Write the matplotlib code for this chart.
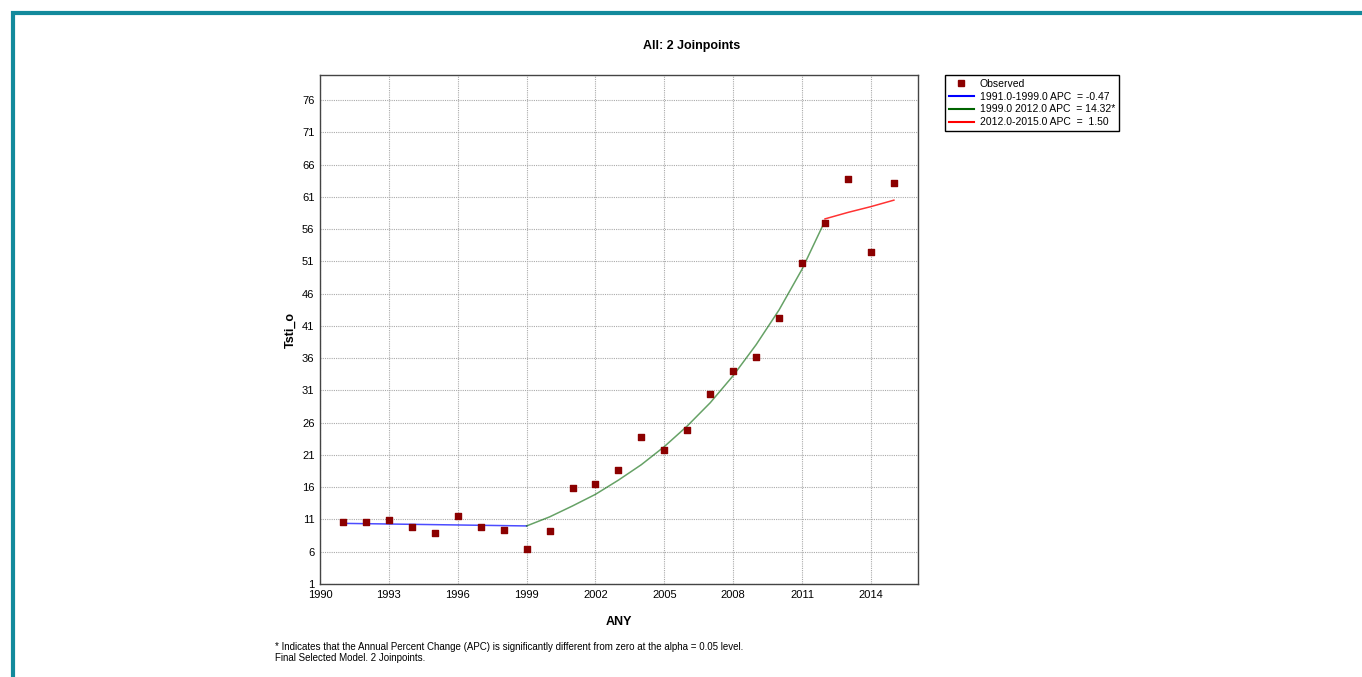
import numpy as np
import matplotlib
matplotlib.use('Agg')
import matplotlib.pyplot as plt
from matplotlib.lines import Line2D
from matplotlib.patches import Rectangle

plt.rcParams['font.family'] = ['Liberation Sans', 'DejaVu Sans']

# observed values
years = list(range(1991, 2016))
observed = [10.6, 10.6, 10.9, 9.8, 8.9, 11.5, 9.8, 9.4, 6.4, 9.2,
            15.9, 16.5, 18.7, 23.8, 21.8, 24.9, 30.4, 34.0, 36.2, 42.2,
            50.7, 56.9, 63.8, 52.4, 63.1]

# fitted segments
seg1_years = list(range(1991, 2000))
seg1_fit = [10.40, 10.35, 10.30, 10.25, 10.20, 10.15, 10.10, 10.05, 10.00]
seg2_years = list(range(1999, 2013))
seg2_fit = [10.0, 11.4, 13.1, 14.9, 17.1, 19.5, 22.3, 25.5, 29.1, 33.3,
            38.1, 43.5, 49.8, 57.3]
seg3_years = list(range(2012, 2016))
seg3_fit = [57.6, 58.6, 59.5, 60.5]

seg_labels = ['1991.0-1999.0 APC  = -0.47',
              '1999.0 2012.0 APC  = 14.32*',
              '2012.0-2015.0 APC  =  1.50']
seg_colors = ['#0000ff', '#006400', '#ff0000']

xticks = list(range(1990, 2015, 3))
yticks = list(range(1, 77, 5))

fig = plt.figure(figsize=(13.62, 6.77), dpi=100)
ax = fig.add_axes([320 / 1362, 1 - 584 / 677, 598 / 1362, 509 / 677])

# outer teal frame
fig.patches.append(Rectangle((13 / 1362, -0.1), 1.2, (677 - 13) / 677 + 0.1,
                             transform=fig.transFigure, fill=False,
                             edgecolor='#138a9c', linewidth=3))

ax.plot(seg1_years, seg1_fit, color=seg_colors[0], lw=1.1, alpha=0.7)
ax.plot(seg2_years, seg2_fit, color=seg_colors[1], lw=1.1, alpha=0.6)
ax.plot(seg3_years, seg3_fit, color=seg_colors[2], lw=1.1, alpha=0.8)
ax.scatter(years, observed, marker='s', s=22, color='#8b0000', zorder=3)

ax.set_xlim(1990, 2016.05)
ax.set_ylim(1, 79.9)
ax.set_xticks(xticks)
ax.set_yticks(yticks)
ax.tick_params(length=0, labelsize=8, pad=4)
ax.grid(True, color='#aaaaaa', linestyle=(0, (1, 1)), linewidth=0.8)
for s in ax.spines.values():
    s.set_color('#444444')
    s.set_linewidth(1)

ax.set_xlabel('ANY', fontsize=9, fontweight='bold', labelpad=12)
ax.set_ylabel('Tsti_o', fontsize=9, fontweight='bold', labelpad=4)
fig.text(692 / 1362, 1 - 46 / 677, 'All: 2 Joinpoints', ha='center', va='center',
         fontsize=9, fontweight='bold')

handles = [Line2D([], [], marker='s', ls='none', color='#8b0000', markersize=4)]
handles += [Line2D([], [], color=c, lw=1.5) for c in seg_colors]
fig.legend(handles, ['Observed'] + seg_labels, loc='upper left',
           bbox_to_anchor=(945 / 1362, 1 - 75 / 677), fontsize=7.5,
           frameon=True, fancybox=False, edgecolor='black', framealpha=1,
           borderpad=0.35, labelspacing=0.28, handlelength=2.4, handletextpad=0.6,
           borderaxespad=0)

fig.text(275 / 1362, 1 - 647 / 677,
         '* Indicates that the Annual Percent Change (APC) is significantly different from zero at the alpha = 0.05 level.',
         fontsize=7, va='center')
fig.text(275 / 1362, 1 - 658 / 677, 'Final Selected Model. 2 Joinpoints.',
         fontsize=7, va='center')

fig.savefig('out.png', dpi=100)
